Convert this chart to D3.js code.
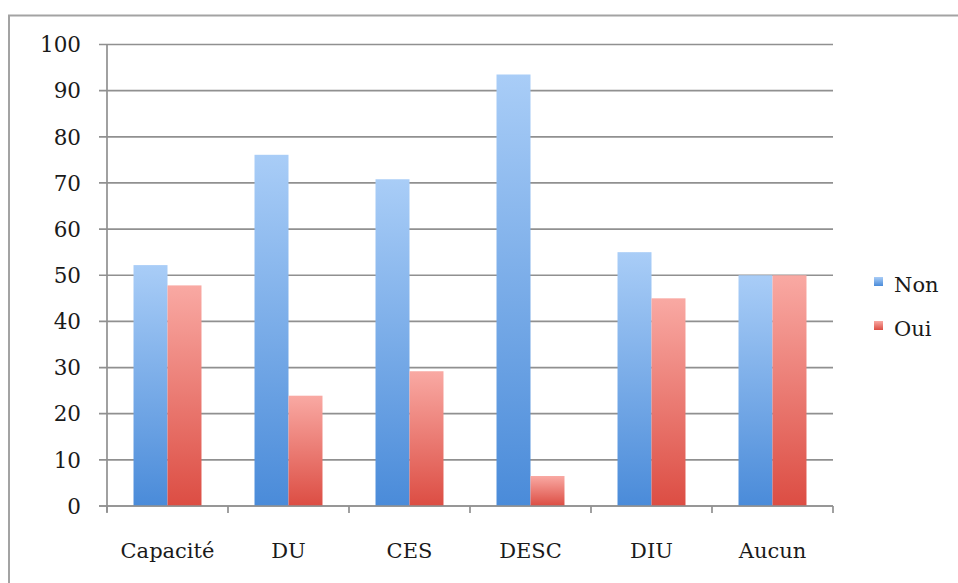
<!DOCTYPE html>
<html><head><meta charset="utf-8">
<script src="https://cdn.jsdelivr.net/npm/d3@7"></script>
<style>body{margin:0;background:#fff}svg{display:block}</style>
</head><body>
<script>
const categories = ["Capacité","DU","CES","DESC","DIU","Aucun"];
const seriesNames = ["Non","Oui"];
const nonValues = [52.2,76.1,70.8,93.5,55.0,50.0];
const ouiValues = [47.8,23.9,29.2,6.5,45.0,50.0];
const yTicks = [0,10,20,30,40,50,60,70,80,90,100];

(function(){
const W=958,H=583;
const svg=d3.select("body").append("svg").attr("width",W).attr("height",H);
const font="'DejaVu Serif', serif";

svg.append("path").attr("d","M9,583 V15.5 H958").attr("fill","none").attr("stroke","#a3a3a3").attr("stroke-width",2);

const defs=svg.append("defs");
function grad(id,t,b){
  const g=defs.append("linearGradient").attr("id",id).attr("x1",0).attr("y1",0).attr("x2",0).attr("y2",1);
  g.append("stop").attr("offset","0%").attr("stop-color",t);
  g.append("stop").attr("offset","100%").attr("stop-color",b);
}
grad("gNon","#a9cdf7","#4a8bd9");
grad("gOui","#f9a9a3","#dc4d43");

const pL=107,pR=833,pT=44.5,pB=506;
const x=d3.scaleBand().domain(categories).range([pL,pR]);
const y=d3.scaleLinear().domain([0,100]).range([pB,pT]);
const inner=d3.scaleBand().domain(seriesNames).range([0,x.bandwidth()]).paddingOuter(0.78).paddingInner(0);

svg.append("g").selectAll("line").data(yTicks).join("line")
  .attr("x1",pL-8).attr("x2",pR).attr("y1",d=>y(d)).attr("y2",d=>y(d))
  .attr("stroke","#909090").attr("stroke-width",1.7);

svg.append("line").attr("x1",pL).attr("x2",pL).attr("y1",pT).attr("y2",pB+6).attr("stroke","#909090").attr("stroke-width",1.7);
const xt=[...categories.map(c=>x(c)),pR];
svg.append("g").selectAll("line").data(xt).join("line")
  .attr("x1",d=>d).attr("x2",d=>d).attr("y1",pB).attr("y2",pB+7)
  .attr("stroke","#909090").attr("stroke-width",1.7);

const data=categories.map((c,i)=>({c,vals:[{s:"Non",v:nonValues[i]},{s:"Oui",v:ouiValues[i]}]}));
const g=svg.append("g");
data.forEach(d=>{
  g.selectAll(null).data(d.vals).join("rect")
   .attr("x",e=>x(d.c)+inner(e.s)).attr("width",inner.bandwidth())
   .attr("y",e=>y(e.v)).attr("height",e=>pB-y(e.v))
   .attr("fill",e=>e.s==="Non"?"url(#gNon)":"url(#gOui)");
});
svg.append("line").attr("x1",pL-8).attr("x2",pR).attr("y1",pB).attr("y2",pB).attr("stroke","#909090").attr("stroke-width",1.7);

svg.append("g").selectAll("text").data(yTicks).join("text")
  .attr("x",81).attr("y",d=>y(d)).attr("dy","0.36em").attr("text-anchor","end")
  .attr("font-family",font).attr("font-size",21.5).attr("fill","#1a1a1a").text(d=>d);
svg.append("g").selectAll("text").data(categories).join("text")
  .attr("x",d=>x(d)+x.bandwidth()/2).attr("y",558).attr("text-anchor","middle")
  .attr("font-family",font).attr("font-size",21).attr("fill","#1a1a1a").text(d=>d);

const lg=svg.append("g");
seriesNames.forEach((s,i)=>{
  const yy=277+i*44;
  lg.append("rect").attr("x",874).attr("y",yy).attr("width",9).attr("height",9).attr("fill",s==="Non"?"url(#gNon)":"url(#gOui)");
  lg.append("text").attr("x",894).attr("y",yy+15).attr("font-family",font).attr("font-size",21).attr("fill","#1a1a1a").text(s);
});
})();
</script>
</body></html>
